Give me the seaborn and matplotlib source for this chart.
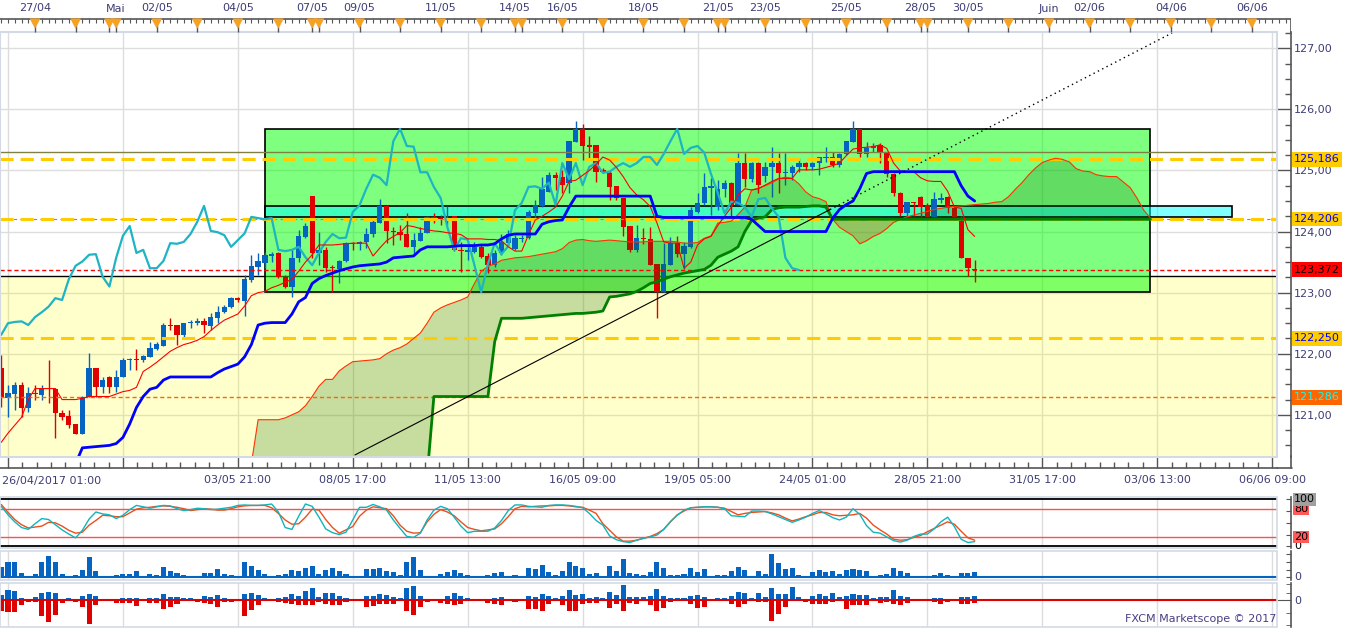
import numpy as np
import matplotlib
matplotlib.use("Agg")
import matplotlib.pyplot as plt
import matplotlib.transforms as mtrans
from matplotlib.patches import Rectangle, Polygon
from matplotlib.lines import Line2D
from matplotlib.ticker import FixedLocator, MultipleLocator, FuncFormatter
import seaborn as sns

sns.set_style("white")
plt.rcParams["font.family"] = ["DejaVu Sans"]
plt.rcParams["font.size"] = 8

# ---- H4 candles, bar 0 = 26/04/2017 01:00 ----
opens = [121.76, 121.27, 121.34, 121.49, 121.11, 121.36, 121.33, 121.44, 121.42, 121.03,
         120.98, 120.85, 120.69, 121.29, 121.76, 121.46, 121.62, 121.46, 121.62, 121.90,
         121.92, 121.90, 121.95, 122.08, 122.13, 122.46, 122.47, 122.31, 122.50, 122.50,
         122.53, 122.45, 122.59, 122.68, 122.77, 122.91, 122.87, 123.21, 123.42, 123.49,
         123.60, 123.65, 123.26, 123.10, 123.57, 123.91, 124.58, 123.65, 123.70, 123.42,
         123.39, 123.52, 123.81, 123.79, 123.83, 123.96, 124.14, 124.42, 124.01, 123.99,
         123.96, 123.75, 123.85, 123.97, 124.24, 124.22, 124.20, 124.25, 123.70, 123.67,
         123.67, 123.75, 123.60, 123.45, 123.65, 123.81, 123.71, 123.88, 123.89, 124.30,
         124.42, 124.65, 124.93, 124.89, 124.79, 125.47, 125.68, 125.40, 125.42, 125.00,
         124.96, 124.75, 124.55, 124.09, 123.70, 123.89, 123.88, 123.47, 123.01, 123.45,
         123.81, 123.63, 123.75, 124.32, 124.47, 124.71, 124.40, 124.70, 124.80, 124.44,
         125.12, 124.86, 125.12, 124.91, 125.06, 125.12, 124.96, 124.96, 125.06, 125.12,
         125.06, 125.12, 125.20, 125.22, 125.09, 125.27, 125.47, 125.68, 125.27, 125.37,
         125.42, 125.29, 124.94, 124.63, 124.30, 124.49, 124.57, 124.43, 124.24, 124.52,
         124.56, 124.38, 124.17, 123.57, 123.39]
highs = [121.98, 121.49, 121.54, 121.54, 121.46, 121.49, 121.49, 121.90, 121.44, 121.08,
         121.08, 120.85, 121.31, 122.01, 121.77, 121.62, 121.64, 121.73, 121.93, 121.93,
         122.08, 121.98, 122.19, 122.19, 122.50, 122.59, 122.47, 122.50, 122.55, 122.59,
         122.59, 122.67, 122.78, 122.80, 122.93, 122.93, 123.29, 123.62, 123.65, 123.67,
         123.67, 123.67, 123.29, 123.70, 124.03, 124.14, 124.58, 124.00, 123.74, 123.45,
         123.54, 123.83, 123.83, 123.85, 124.06, 124.19, 124.53, 124.43, 124.07, 124.11,
         124.30, 123.97, 124.07, 124.25, 124.30, 124.27, 124.42, 124.26, 123.83, 123.76,
         123.83, 123.78, 123.65, 123.70, 123.96, 124.03, 123.94, 123.94, 124.35, 124.52,
         124.89, 124.97, 124.97, 125.01, 125.48, 125.81, 125.76, 125.56, 125.42, 125.04,
         125.01, 124.75, 124.55, 124.09, 124.11, 124.05, 124.07, 123.47, 123.81, 123.91,
         123.93, 123.83, 124.40, 124.63, 124.96, 124.87, 124.85, 124.85, 124.81, 125.28,
         125.28, 125.14, 125.14, 125.14, 125.38, 125.28, 125.28, 125.09, 125.20, 125.14,
         125.14, 125.22, 125.38, 125.30, 125.28, 125.48, 125.81, 125.68, 125.47, 125.45,
         125.45, 125.29, 124.96, 124.65, 124.49, 124.49, 124.58, 124.47, 124.65, 124.63,
         124.58, 124.40, 124.25, 123.57, 123.54]
lows = [121.13, 120.96, 121.08, 120.96, 121.05, 121.24, 121.24, 121.19, 120.62, 120.92,
        120.78, 120.69, 120.69, 121.29, 121.29, 121.36, 121.36, 121.38, 121.62, 121.73,
        121.73, 121.87, 121.95, 122.06, 122.13, 122.39, 122.15, 122.28, 122.42, 122.47,
        122.34, 122.39, 122.50, 122.67, 122.75, 122.85, 122.62, 123.18, 123.29, 123.41,
        123.50, 123.24, 123.08, 122.93, 123.50, 123.89, 123.57, 123.45, 123.34, 123.01,
        123.16, 123.50, 123.70, 123.70, 123.73, 123.91, 124.14, 123.81, 123.78, 123.86,
        123.75, 123.62, 123.85, 123.97, 124.14, 124.11, 124.11, 123.68, 123.34, 123.54,
        123.65, 123.57, 123.32, 123.42, 123.62, 123.76, 123.70, 123.83, 123.88, 124.22,
        124.40, 124.65, 124.68, 124.63, 124.63, 125.47, 125.17, 125.17, 124.81, 124.96,
        124.52, 124.52, 123.93, 123.67, 123.67, 123.80, 123.45, 122.59, 123.01, 123.45,
        123.58, 123.38, 123.73, 124.30, 124.43, 124.27, 124.35, 124.57, 124.19, 124.44,
        124.73, 124.81, 124.63, 124.81, 124.57, 124.63, 124.76, 124.84, 124.97, 125.01,
        125.01, 124.92, 125.14, 125.06, 125.06, 125.25, 125.47, 125.22, 125.22, 125.30,
        125.12, 124.89, 124.58, 124.25, 124.24, 124.25, 124.24, 124.24, 124.24, 124.47,
        124.30, 124.24, 123.57, 123.27, 123.17]
closes = [121.30, 121.36, 121.49, 121.11, 121.36, 121.34, 121.44, 121.42, 121.03, 120.96,
          120.83, 120.69, 121.29, 121.76, 121.46, 121.57, 121.46, 121.62, 121.90, 121.92,
          121.90, 121.97, 122.10, 122.16, 122.47, 122.45, 122.31, 122.50, 122.52, 122.53,
          122.47, 122.60, 122.68, 122.77, 122.91, 122.88, 123.22, 123.44, 123.51, 123.62,
          123.63, 123.26, 123.10, 123.57, 123.93, 124.09, 123.65, 123.70, 123.40, 123.40,
          123.52, 123.81, 123.80, 123.83, 123.96, 124.16, 124.42, 124.01, 123.99, 123.94,
          123.75, 123.86, 123.97, 124.24, 124.22, 124.20, 124.22, 123.70, 123.68, 123.70,
          123.75, 123.58, 123.45, 123.65, 123.83, 123.96, 123.89, 123.90, 124.32, 124.43,
          124.70, 124.93, 124.88, 124.76, 125.48, 125.68, 125.40, 125.39, 124.97, 124.97,
          124.73, 124.55, 124.07, 123.70, 123.89, 123.87, 123.45, 123.01, 123.47, 123.81,
          123.63, 123.76, 124.35, 124.47, 124.73, 124.74, 124.70, 124.80, 124.44, 125.12,
          124.86, 125.12, 124.76, 125.06, 125.12, 124.96, 124.98, 125.06, 125.12, 125.06,
          125.12, 125.22, 125.22, 125.09, 125.27, 125.48, 125.68, 125.27, 125.37, 125.40,
          125.29, 124.94, 124.63, 124.30, 124.49, 124.47, 124.40, 124.24, 124.53, 124.55,
          124.38, 124.24, 123.57, 123.40, 123.37]

# ---- Ichimoku ----
tenkan = [120.55, 120.70, 120.83, 120.96, 121.25, 121.43, 121.43, 121.43, 121.43, 121.25,
          121.25, 121.25, 121.27, 121.30, 121.30, 121.30, 121.30, 121.34, 121.38, 121.40,
          121.45, 121.71, 121.78, 121.86, 121.95, 122.04, 122.10, 122.15, 122.18, 122.22,
          122.28, 122.38, 122.47, 122.55, 122.60, 122.65, 122.78, 122.95, 123.00, 123.02,
          123.08, 123.12, 123.17, 123.22, 123.35, 123.50, 123.62, 123.78, 123.78, 123.78,
          123.79, 123.80, 123.81, 123.81, 123.81, 123.60, 123.73, 123.85, 123.92, 123.98,
          124.10, 124.08, 124.05, 124.03, 124.01, 124.00, 123.98, 123.97, 123.95, 123.88,
          123.88, 123.88, 123.87, 123.87, 123.85, 123.75, 123.68, 123.68, 123.95, 124.19,
          124.25, 124.32, 124.40, 124.58, 124.82, 124.84, 124.92, 125.00, 125.10, 125.22,
          125.17, 125.05, 124.90, 124.72, 124.60, 124.52, 124.41, 124.14, 123.83, 123.81,
          123.81, 123.40, 123.50, 123.78, 123.88, 123.92, 124.10, 124.25, 124.40, 124.60,
          124.70, 124.68, 124.70, 124.76, 124.82, 124.87, 124.87, 124.87, 125.01, 125.01,
          125.01, 125.02, 125.05, 125.08, 125.12, 125.24, 125.35, 125.37, 125.38, 125.39,
          125.42, 125.36, 125.12, 124.99, 124.98, 124.98, 124.88, 124.83, 124.82, 124.82,
          124.66, 124.40, 124.38, 124.03, 123.92]
kijun_start = 11
kijun = [120.20, 120.46, 120.47, 120.48, 120.49, 120.50, 120.53, 120.63, 120.85, 121.12,
         121.30, 121.42, 121.45, 121.57, 121.62, 121.62, 121.62, 121.62, 121.62, 121.62,
         121.62, 121.69, 121.75, 121.79, 121.83, 121.95, 122.15, 122.47, 122.50, 122.51,
         122.51, 122.51, 122.65, 122.85, 122.92, 123.15, 123.23, 123.28, 123.32, 123.36,
         123.39, 123.42, 123.44, 123.45, 123.46, 123.47, 123.50, 123.57, 123.58, 123.59,
         123.60, 123.70, 123.75, 123.75, 123.75, 123.75, 123.76, 123.77, 123.77, 123.77,
         123.78, 123.78, 123.80, 123.88, 123.94, 123.96, 123.96, 123.96, 123.96, 124.12,
         124.16, 124.18, 124.19, 124.40, 124.58, 124.58, 124.58, 124.58, 124.58, 124.58,
         124.58, 124.58, 124.58, 124.58, 124.58, 124.58, 124.25, 124.23, 124.23, 124.23,
         124.23, 124.23, 124.23, 124.23, 124.23, 124.23, 124.23, 124.23, 124.23, 124.23,
         124.20, 124.10, 124.00, 124.00, 124.00, 124.00, 124.00, 124.00, 124.00, 124.00,
         124.00, 124.00, 124.22, 124.36, 124.44, 124.50, 124.70, 124.95, 124.98, 124.98,
         124.98, 124.98, 124.98, 124.98, 124.98, 124.98, 124.98, 124.98, 124.98, 124.98,
         124.98, 124.75, 124.58, 124.50]
span_start = 37
span_a = [120.20, 120.92, 120.92, 120.92, 120.92, 120.95, 121.00, 121.05, 121.15, 121.30,
          121.47, 121.58, 121.58, 121.72, 121.80, 121.87, 121.88, 121.89, 121.90, 121.92,
          122.00, 122.06, 122.10, 122.16, 122.25, 122.34, 122.50, 122.68, 122.75, 122.80,
          122.84, 122.88, 122.93, 123.15, 123.35, 123.43, 123.47, 123.53, 123.55, 123.57,
          123.58, 123.59, 123.61, 123.63, 123.65, 123.67, 123.72, 123.82, 123.86, 123.87,
          123.85, 123.84, 123.85, 123.86, 123.85, 123.84, 123.83, 123.83, 123.83, 123.84,
          123.84, 123.84, 123.84, 123.83, 123.81, 123.81, 123.82, 123.89, 123.93, 124.14,
          124.15, 124.17, 124.28, 124.40, 124.68, 124.71, 124.75, 124.80, 124.86, 124.89,
          124.87, 124.78, 124.65, 124.57, 124.54, 124.49, 124.20, 124.07, 124.00, 123.93,
          123.80, 123.85, 123.92, 123.97, 124.05, 124.15, 124.20, 124.24, 124.27, 124.30,
          124.33, 124.36, 124.38, 124.40, 124.41, 124.42, 124.43, 124.44, 124.45, 124.46,
          124.48, 124.49, 124.57, 124.69, 124.80, 124.93, 125.04, 125.13, 125.17, 125.20,
          125.18, 125.14, 125.03, 124.99, 124.98, 124.93, 124.91, 124.90, 124.90, 124.81,
          124.72, 124.55, 124.35, 124.22]
span_b = [120.00, 120.00, 120.00, 120.00, 120.00, 120.00, 120.00, 120.00, 120.00, 120.00,
          120.00, 120.00, 120.00, 120.00, 120.00, 120.00, 120.00, 120.00, 120.00, 120.00,
          120.00, 120.00, 120.00, 120.00, 120.00, 120.00, 120.00, 121.30, 121.30, 121.30,
          121.30, 121.30, 121.30, 121.30, 121.30, 121.30, 122.20, 122.58, 122.58, 122.58,
          122.58, 122.59, 122.60, 122.61, 122.62, 122.63, 122.64, 122.65, 122.66, 122.66,
          122.67, 122.68, 122.70, 122.93, 122.94, 122.96, 122.98, 123.02, 123.08, 123.15,
          123.18, 123.22, 123.26, 123.29, 123.32, 123.34, 123.36, 123.38, 123.45, 123.58,
          123.63, 123.68, 123.75, 124.00, 124.18, 124.22, 124.24, 124.36, 124.39, 124.40,
          124.40, 124.40, 124.41, 124.42, 124.42, 124.40, 124.20, 124.20, 124.20, 124.20,
          124.20, 124.20, 124.20, 124.20, 124.20, 124.20, 124.20, 124.20, 124.20, 124.20,
          124.20, 124.20, 124.20, 124.20, 124.20, 124.20, 124.20, 124.20, 124.20, 124.20,
          124.20, 124.20, 124.20, 124.20, 124.20, 124.20, 124.20, 124.20, 124.20, 124.20,
          124.20, 124.20, 124.20, 124.20, 124.20, 124.20, 124.20, 124.20, 124.20, 124.20,
          124.20, 124.20, 124.20, 124.20]
chikou_shift = 26

# ---- drawn objects (bar index / price) ----
trend_x = [52.33, 122.6, 173.2]
trend_y = [120.344, 124.36, 127.25]
green_box = (39.0, 170.0, 123.006, 125.674)
cyan_box = (39.0, 182.1, 124.233, 124.423)
yellow_top = 123.273
olive_level = 125.297
yellow_levels = [125.186, 124.206, 122.250]
red_level = 123.372
orange_level = 121.286

price_tags = ["125,186", "124,206", "123,372", "122,250", "121,286"]
price_tag_vals = [125.186, 124.206, 123.372, 122.250, 121.286]
price_tag_bg = ["#ffcc00", "#ffcc00", "#ff0000", "#ffcc00", "#ff6600"]
price_tag_fg = ["#0000ff", "#0000ff", "#000000", "#0000ff", "#00ffff"]

# ---- oscillators ----
stoch_k = [85, 67, 52, 40, 36, 48, 59, 57, 46, 35,
           26, 18, 34, 58, 73, 69, 67, 59, 66, 78,
           87, 84, 81, 84, 87, 86, 80, 76, 78, 81,
           80, 78, 79, 81, 83, 87, 88, 87, 87, 88,
           90, 73, 40, 36, 64, 90, 85, 62, 37, 29,
           25, 30, 56, 83, 83, 89, 84, 77, 56, 38,
           21, 19, 28, 56, 77, 85, 80, 62, 43, 29,
           32, 32, 32, 39, 55, 76, 88, 88, 85, 84,
           83, 87, 88, 88, 87, 85, 82, 70, 55, 45,
           22, 14, 10, 8, 13, 17, 20, 24, 36, 53,
           66, 77, 82, 83, 84, 84, 83, 80, 65, 64,
           63, 75, 75, 74, 69, 63, 57, 51, 56, 62,
           70, 76, 69, 61, 56, 62, 80, 68, 44, 30,
           28, 20, 12, 9, 13, 21, 26, 26, 37, 52,
           62, 42, 15, 8, 10]
stoch_d = [89, 72, 57, 46, 39, 41, 43, 51, 50, 43,
           34, 28, 30, 45, 55, 66, 65, 63, 63, 71,
           79, 82, 83, 85, 86, 85, 83, 80, 76, 78,
           80, 79, 77, 77, 80, 84, 86, 87, 87, 87,
           82, 70, 56, 47, 48, 62, 79, 77, 57, 40,
           28, 35, 42, 64, 77, 84, 82, 80, 65, 45,
           32, 28, 29, 52, 68, 78, 73, 65, 52, 40,
           36, 33, 35, 37, 48, 63, 80, 85, 84, 85,
           86, 86, 87, 87, 86, 84, 83, 77, 70, 48,
           34, 20, 11, 11, 13, 17, 21, 27, 36, 52,
           67, 75, 82, 83, 84, 84, 83, 81, 74, 67,
           70, 72, 73, 74, 71, 67, 60, 54, 58, 63,
           67, 72, 72, 67, 65, 66, 67, 70, 60, 45,
           35, 26, 15, 13, 14, 19, 23, 31, 38, 45,
           52, 47, 32, 18, 13]
volume = [107, 157, 157, 47, 13, 33, 157, 213, 157, 33,
          13, 23, 73, 207, 67, 13, 7, 23, 33, 33,
          67, 13, 33, 23, 107, 67, 47, 23, 13, 13,
          47, 47, 83, 33, 23, 7, 157, 113, 73, 33,
          13, 23, 33, 73, 67, 97, 113, 33, 73, 90,
          63, 33, 13, 13, 83, 80, 90, 63, 53, 23,
          157, 207, 73, 13, 13, 33, 57, 73, 47, 23,
          13, 7, 23, 47, 57, 13, 23, 13, 97, 83,
          123, 57, 23, 63, 157, 113, 97, 33, 47, 13,
          113, 67, 183, 47, 33, 23, 57, 157, 97, 23,
          23, 33, 97, 57, 83, 13, 23, 23, 63, 107,
          73, 13, 63, 33, 233, 147, 83, 97, 23, 13,
          57, 73, 57, 63, 33, 73, 83, 73, 63, 13,
          23, 33, 97, 63, 47, 13, 0, 0, 23, 47,
          23, 13, 47, 47, 57]
bull = [53, 103, 93, 27, 10, 30, 77, 87, 70, 13,
        27, 13, 47, 63, 43, 13, 13, 13, 27, 27,
        27, 13, 27, 20, 63, 37, 30, 27, 27, 13,
        43, 37, 53, 27, 13, 13, 63, 77, 53, 27,
        13, 27, 37, 63, 43, 93, 127, 37, 70, 70,
        43, 27, 13, 13, 43, 43, 60, 53, 37, 27,
        127, 143, 43, 13, 13, 13, 43, 70, 43, 27,
        13, 13, 13, 27, 37, 13, 13, 13, 43, 37,
        63, 43, 27, 43, 103, 53, 63, 27, 37, 27,
        87, 53, 153, 30, 30, 30, 43, 113, 43, 27,
        27, 27, 43, 53, 37, 13, 27, 27, 43, 83,
        70, 27, 70, 37, 127, 63, 63, 137, 30, 13,
        43, 63, 43, 77, 30, 43, 60, 53, 53, 27,
        30, 30, 103, 43, 30, 13, 13, 13, 27, 27,
        13, 13, 37, 37, 43]
bear = [103, 113, 113, 47, 20, 17, 157, 213, 147, 23,
        0, 20, 63, 237, 47, 0, 0, 23, 23, 23,
        57, 7, 23, 23, 83, 63, 33, 0, 0, 17,
        23, 33, 67, 17, 17, 0, 157, 97, 47, 7,
        0, 17, 23, 33, 47, 47, 47, 17, 33, 47,
        47, 17, 7, 7, 63, 57, 33, 40, 33, 0,
        103, 147, 67, 17, 0, 23, 40, 47, 40, 0,
        0, 0, 23, 33, 47, 0, 17, 0, 83, 83,
        103, 33, 0, 47, 103, 103, 33, 23, 23, 0,
        73, 33, 103, 23, 33, 0, 47, 103, 73, 17,
        0, 0, 33, 73, 63, 0, 0, 0, 33, 63,
        40, 0, 17, 17, 207, 133, 63, 0, 0, 17,
        33, 33, 33, 17, 0, 83, 47, 47, 47, 0,
        23, 17, 33, 47, 23, 0, 0, 0, 17, 33,
        17, 0, 33, 33, 23]

# ---- axis text ----
bottom_tick_bars = [1, 18, 35, 52, 69, 86, 103, 120, 137, 154, 171, 188]
bottom_tick_labels = ["", "", "03/05 21:00", "08/05 17:00", "11/05 13:00", "16/05 09:00",
                      "19/05 05:00", "24/05 01:00", "28/05 21:00", "31/05 17:00",
                      "03/06 13:00", "06/06 09:00"]
first_label = "26/04/2017 01:00"
day_marks = [5, 11, 16, 17, 23, 29, 35, 41, 46, 47, 53, 59, 65, 71, 76, 77, 83, 89,
             95, 101, 106, 107, 113, 119, 125, 131, 136, 137, 143, 149, 155, 161, 167,
             173, 179, 185]
top_label_bars = [5, 17, 23, 35, 46, 53, 65, 76, 83, 95, 106, 113, 125, 136, 143, 155,
                  161, 173, 185]
top_labels = ["27/04", "Mai", "02/05", "04/05", "07/05", "09/05", "11/05", "14/05",
              "16/05", "18/05", "21/05", "23/05", "25/05", "28/05", "30/05", "Juin",
              "02/06", "04/06", "06/06"]

TXT = "#3d3d75"
AX = "#555555"
BLUE = "#0563c1"
RED = "#e00000"
FRAME = "#d3dae6"
W, H = 1349, 628

o = np.array(opens); h = np.array(highs); l = np.array(lows); c = np.array(closes)
bars = np.arange(len(c))

fig = plt.figure(figsize=(W / 100, H / 100), dpi=100)
fig.patch.set_facecolor("white")


def px_axes(left, top, right, bottom):
    return fig.add_axes([left / W, 1 - bottom / H, (right - left) / W, (bottom - top) / H])


def bar_at(px):
    return (px - 1.24) / 6.76


x0, x1 = bar_at(0), bar_at(1277)
price_fmt = FuncFormatter(lambda v, pos: f"{v:.2f}".replace(".", ","))

# ================= main price panel =================
ax = px_axes(0, 32, 1277, 457)
ax.set_xlim(x0, x1)
ax.set_ylim(120.31, 127.266)
ax.set_facecolor("white")
ax.grid(True, which="major", color="#dddddd", lw=1)
ax.set_axisbelow(True)

ax.add_patch(Rectangle((-5, 119.0), 200, yellow_top - 119.0, fc=(1, 1, 0, 0.2), ec="none", zorder=1))
ax.axhline(yellow_top, color="black", lw=1, zorder=1.1)
gx0, gx1, gy0, gy1 = green_box
ax.add_patch(Rectangle((gx0, gy0), gx1 - gx0, gy1 - gy0, fc=(0, 1, 0, 0.5), ec="black", lw=1.2, zorder=1.5))
cx0, cx1, cy0, cy1 = cyan_box
ax.add_patch(Rectangle((cx0, cy0), cx1 - cx0, cy1 - cy0, fc=(0, 1, 1, 0.5), ec="black", lw=1.2, zorder=1.6))

# candles
up = c >= o
colors = np.where(up, BLUE, RED)
body_lo = np.minimum(o, c)
body_h = np.maximum(np.abs(c - o), 0.02)
ax.vlines(bars, l, h, colors=colors, lw=1, zorder=3)
ax.bar(bars, body_h, bottom=body_lo, width=0.78, color=colors, lw=0, zorder=3.1)

# cloud
sx = np.arange(span_start, span_start + len(span_a))
sa = np.array(span_a); sb = np.array(span_b)
ax.fill_between(sx, sa, sb, where=sa >= sb, interpolate=True, color="#006400", alpha=0.22, lw=0, zorder=3.5)
ax.fill_between(sx, sa, sb, where=sa < sb, interpolate=True, color="#c04020", alpha=0.3, lw=0, zorder=3.5)

# levels
ax.axhline(olive_level, color="#808040", lw=1, zorder=3.8)
ax.axhline(yellow_levels[1], color="#ff6a00", lw=0.8, ls=(0, (3, 3)), zorder=3.8)
for lv in yellow_levels:
    ax.axhline(lv, color="#ffcc00", lw=2.2, ls=(0, (4.3, 2.3)), zorder=3.9)
ax.axhline(red_level, color="#ff0000", lw=1, ls=(0, (3, 2)), zorder=3.9)
ax.axhline(orange_level, color="#ff6600", lw=1, ls=(0, (3, 2)), zorder=3.9)

# ichimoku lines
sns.lineplot(x=sx, y=sa, ax=ax, color="#ff3300", linewidth=0.8, legend=False, errorbar=None, zorder=4)
sns.lineplot(x=sx, y=sb, ax=ax, color="#008000", linewidth=2, legend=False, errorbar=None, zorder=4)
sns.lineplot(x=bars[:len(c) - chikou_shift], y=c[chikou_shift:], ax=ax, color="#1eb4c3",
             linewidth=1.6, legend=False, errorbar=None, zorder=4.3)
sns.lineplot(x=bars, y=np.array(tenkan), ax=ax, color="#ff0000", linewidth=0.8,
             legend=False, errorbar=None, zorder=4.4)
sns.lineplot(x=np.arange(kijun_start, kijun_start + len(kijun)), y=np.array(kijun), ax=ax,
             color="#0000ff", linewidth=2, legend=False, errorbar=None, zorder=4.5)

# trendline
ax.plot(trend_x[:2], trend_y[:2], color="black", lw=0.8, zorder=5)
ax.plot(trend_x[1:], trend_y[1:], color="black", lw=1, ls=(0, (1, 2.5)), zorder=5)
ax.set_xlim(x0, x1)
ax.set_ylim(120.31, 127.266)
ax.set_xlabel("")
ax.set_ylabel("")

# axes / ticks
for s in ["top", "left"]:
    ax.spines[s].set_visible(False)
ax.spines["right"].set_position(("outward", 10.08))
ax.spines["bottom"].set_position(("outward", 7.92))
for s in ["right", "bottom"]:
    ax.spines[s].set_color(AX)
    ax.spines[s].set_linewidth(1.2)
ax.set_xticks(bottom_tick_bars)
ax.set_xticklabels(bottom_tick_labels)
ax.xaxis.set_minor_locator(FixedLocator(1 + 2.125 * np.arange(0, 89)))
ax.tick_params(axis="x", which="major", bottom=True, top=False, direction="in", length=7.9,
               width=1, color=AX, labelsize=8, labelcolor=TXT, pad=5)
ax.tick_params(axis="x", which="minor", bottom=True, top=False, direction="in", length=4.3,
               width=1, color=AX)
ax.yaxis.tick_right()
ax.set_yticks(range(121, 128))
ax.yaxis.set_major_formatter(price_fmt)
ax.yaxis.set_minor_locator(MultipleLocator(0.25))
ax.tick_params(axis="y", which="major", right=True, left=False, direction="in", length=10.08,
               width=1, color=AX, labelsize=8, labelcolor=TXT, pad=2)
ax.tick_params(axis="y", which="minor", right=True, left=False, direction="in", length=4.3,
               width=1, color=AX)
ax.add_patch(Rectangle((0, 0), 1, 1, transform=ax.transAxes, fill=False, ec=FRAME,
                       lw=1.5, clip_on=False, zorder=10))
fig.add_artist(Line2D([1277 / W, 1291.5 / W], [1 - 468 / H, 1 - 468 / H], color=AX, lw=1.2))
fig.add_artist(Line2D([1291 / W, 1291 / W], [1 - 456 / H, 1 - 468 / H], color=AX, lw=1.2))
fig.text(2 / W, 1 - 481 / H, first_label, ha="left", va="center", color=TXT, fontsize=8)

tag_tr = mtrans.blended_transform_factory(fig.transFigure, ax.transData)
for txt, val, bg, fg in zip(price_tags, price_tag_vals, price_tag_bg, price_tag_fg):
    ax.text(1294 / W, val, txt, transform=tag_tr, ha="left", va="center", color=fg,
            fontsize=8, zorder=20, clip_on=False,
            bbox=dict(boxstyle="square,pad=0.22", fc=bg, ec="none"))

# ================= top date ruler =================
axr = px_axes(0, 0, 1291, 33)
axr.set_xlim(bar_at(0), bar_at(1291))
axr.set_ylim(33, 0)
axr.axis("off")
axr.hlines(18.5, bar_at(0), bar_at(1291), color=AX, lw=1.2)
axr.vlines(np.arange(0, 191), 18.5, 23, color=AX, lw=0.8)
axr.vlines(day_marks, 18.5, 32, color=AX, lw=1)
for d in day_marks:
    axr.add_patch(Polygon([(d - 0.72, 18.8), (d + 0.72, 18.8), (d, 28)], closed=True,
                          fc="#f7a21b", ec="#f0a040", lw=0.5, zorder=3))
axr.vlines(bar_at(1290.5), 18.5, 33, color=AX, lw=1.2)
for xb, t in zip(top_label_bars, top_labels):
    axr.text(xb, 8.5, t, ha="center", va="center", color=TXT, fontsize=8)


def style_panel(a, ylo, yhi):
    a.set_xlim(x0, x1)
    a.set_ylim(ylo, yhi)
    a.set_facecolor("white")
    a.set_xticks(bottom_tick_bars)
    a.tick_params(axis="x", bottom=False, labelbottom=False)
    a.grid(True, axis="x", color="#dddddd", lw=1)
    a.grid(False, axis="y")
    a.set_axisbelow(True)
    for s in ["top", "left", "bottom"]:
        a.spines[s].set_visible(False)
    a.spines["right"].set_position(("outward", 10.08))
    a.spines["right"].set_color(AX)
    a.spines["right"].set_linewidth(1.2)
    a.yaxis.tick_right()
    a.set_xlabel("")
    a.set_ylabel("")
    a.add_patch(Rectangle((0, 0), 1, 1, transform=a.transAxes, fill=False, ec=FRAME,
                          lw=1.2, clip_on=False, zorder=10))


# ================= stochastic =================
axs = px_axes(0, 497, 1277, 548)
style_panel(axs, -3.6, 104.9)
axs.axhline(100, color="black", lw=1.3)
axs.axhline(0, color="black", lw=1.3)
axs.axhline(80, color="#ff5050", lw=1)
axs.axhline(20, color="#ff5050", lw=1)
sns.lineplot(x=bars, y=np.array(stoch_d), ax=axs, color="#e8501e", linewidth=1, legend=False, errorbar=None)
sns.lineplot(x=bars, y=np.array(stoch_k), ax=axs, color="#10b4bc", linewidth=1, legend=False, errorbar=None)
axs.set_xlim(x0, x1); axs.set_ylim(-3.6, 104.9)
axs.set_xlabel(""); axs.set_ylabel("")
axs.set_yticks([0, 25, 50, 75, 100])
axs.tick_params(axis="y", right=True, left=False, direction="in", length=3.6, color=AX, labelright=False)
st_tr = mtrans.blended_transform_factory(fig.transFigure, axs.transData)
for val, txt, bg in [(0, "0", "white"), (20, "20", "#ff5a5a"), (80, "80", "#ff5a5a"), (100, "100", "#a0a0a0")]:
    axs.text(1294 / W, val, txt, transform=st_tr, ha="left", va="center", color="black",
             fontsize=8, clip_on=False, zorder=20,
             bbox=dict(boxstyle="square,pad=0.12", fc=bg, ec="none"))

# ================= volume =================
axv = px_axes(0, 551, 1277, 580)
style_panel(axv, -27, 263)
axv.bar(bars, volume, width=0.75, color=BLUE, lw=0, zorder=3)
axv.axhline(0, color=BLUE, lw=1.5, zorder=3)
axv.set_yticks([0, 78, 156, 234])
axv.tick_params(axis="y", right=True, left=False, direction="in", length=3.6, color=AX, labelright=False)
fig.text(1294 / W, 1 - 577.5 / H, "0", ha="left", va="center", color=TXT, fontsize=8)

# ================= bull / bear power =================
axo = px_axes(0, 583, 1277, 627)
style_panel(axo, -267, 173)
axo.bar(bars, bull, width=0.75, color=BLUE, lw=0, zorder=3)
axo.bar(bars, -np.array(bear), width=0.75, color=RED, lw=0, zorder=3)
axo.axhline(0, color=RED, lw=1.5, zorder=4)
axo.set_yticks([0])
axo.yaxis.set_minor_locator(FixedLocator([163, 76, -124, -247]))
axo.tick_params(axis="y", which="major", right=True, left=False, direction="in", length=10.08,
                color=AX, labelright=False)
axo.tick_params(axis="y", which="minor", right=True, left=False, direction="in", length=3.6, color=AX)
fig.text(1294 / W, 1 - 600.5 / H, "0", ha="left", va="center", color=TXT, fontsize=8)

fig.text(1276 / W, 1 - 619.5 / H, "FXCM Marketscope \u00a9 2017", ha="right", va="center",
         color="#4b3d84", fontsize=8)

fig.savefig("out.png", dpi=100, facecolor="white")
